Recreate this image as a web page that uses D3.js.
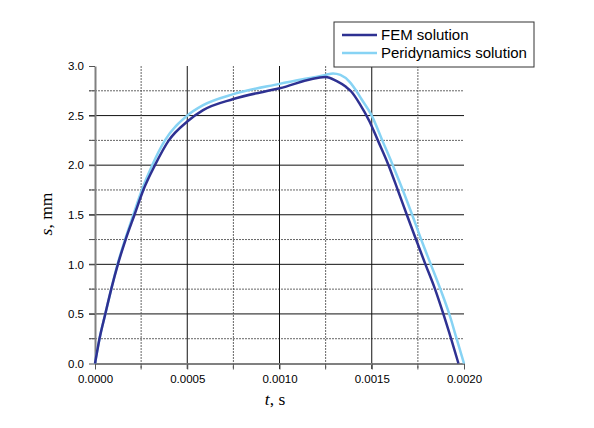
<!DOCTYPE html>
<html>
<head>
<meta charset="utf-8">
<script src="https://cdn.jsdelivr.net/npm/d3@7"></script>
<style>
  body { margin: 0; background: #fff; }
</style>
</head>
<body>
<svg id="chart" width="594" height="428"></svg>
<script>
// data (t in s, s in mm)
var femT = [0, 0.0000244, 0.0000558, 0.000088, 0.000124, 0.000166, 0.000214, 0.000262, 0.000325, 0.0004, 0.0005, 0.000586, 0.00075, 0.001, 0.00125, 0.001308, 0.00136, 0.00139, 0.001434, 0.001488, 0.001533, 0.001591, 0.001641, 0.00169, 0.00174, 0.001791, 0.001843, 0.001888, 0.00193, 0.00197];
var femS = [0, 0.25, 0.5, 0.75, 1.0, 1.25, 1.5, 1.75, 2.0, 2.25, 2.44, 2.555, 2.667, 2.775, 2.89, 2.85, 2.79, 2.74, 2.62, 2.44, 2.25, 2.0, 1.75, 1.5, 1.25, 1.0, 0.75, 0.5, 0.25, 0];
var periT = [0, 0.0000244, 0.0000558, 0.000088, 0.000122, 0.000163, 0.000208, 0.000254, 0.00031, 0.000379, 0.0005, 0.000586, 0.00075, 0.001, 0.00125, 0.00129, 0.00133, 0.00138, 0.001416, 0.001443, 0.0015, 0.001557, 0.001614, 0.001668, 0.001719, 0.001768, 0.00182, 0.001872, 0.00192, 0.00196, 0.002];
var periS = [0, 0.25, 0.5, 0.75, 1.0, 1.25, 1.5, 1.75, 2.0, 2.25, 2.5, 2.605, 2.716, 2.82, 2.91, 2.925, 2.91, 2.84, 2.75, 2.67, 2.5, 2.25, 2.0, 1.75, 1.5, 1.25, 1.0, 0.75, 0.5, 0.25, 0];
var xTicks = [0, 0.0005, 0.001, 0.0015, 0.002];
var xMinor = [0.00025, 0.00075, 0.00125, 0.00175];
var yTicks = [0, 0.5, 1.0, 1.5, 2.0, 2.5, 3.0];
var yMinor = [0.25, 0.75, 1.25, 1.75, 2.25, 2.75];
var seriesNames = ["FEM solution", "Peridynamics solution"];
var seriesColors = ["#2e3192", "#87d3f4"];

var sans = "'Liberation Sans', Arial, sans-serif";
var serif = "'Liberation Serif', 'Times New Roman', serif";

var svg = d3.select("#chart");
var x = d3.scaleLinear().domain([0, 0.002]).range([95, 464]);
var y = d3.scaleLinear().domain([0, 3]).range([363.5, 66]);

// grid
var grid = svg.append("g");
grid.selectAll(".hmin").data(yMinor).enter().append("line")
  .attr("x1", 89).attr("x2", 464)
  .attr("y1", function(d) { return y(d); }).attr("y2", function(d) { return y(d); })
  .attr("stroke", "#555").attr("stroke-width", 0.9).attr("stroke-dasharray", "2,1");
grid.selectAll(".hmaj").data(yTicks.slice(1, 6)).enter().append("line")
  .attr("x1", 89).attr("x2", 464)
  .attr("y1", function(d) { return y(d); }).attr("y2", function(d) { return y(d); })
  .attr("stroke", "#111").attr("stroke-width", 1);
grid.selectAll(".vmin").data(xMinor).enter().append("line")
  .attr("y1", 66).attr("y2", 369)
  .attr("x1", function(d) { return x(d); }).attr("x2", function(d) { return x(d); })
  .attr("stroke", "#555").attr("stroke-width", 0.9).attr("stroke-dasharray", "2,1");
grid.selectAll(".vmaj").data(xTicks.slice(1, 4)).enter().append("line")
  .attr("y1", 66).attr("y2", 369)
  .attr("x1", function(d) { return x(d); }).attr("x2", function(d) { return x(d); })
  .attr("stroke", "#111").attr("stroke-width", 1);

// axes
var xAxis = d3.axisBottom(x).tickValues(xTicks).tickSizeInner(6).tickSizeOuter(0)
  .tickFormat(d3.format(".4f"));
var yAxis = d3.axisLeft(y).tickValues(yTicks).tickSizeInner(6).tickSizeOuter(0)
  .tickFormat(d3.format(".1f"));
var gx = svg.append("g").attr("transform", "translate(0," + y(0) + ")").call(xAxis);
var gy = svg.append("g").attr("transform", "translate(" + x(0) + ",0)").call(yAxis);
[gx, gy].forEach(function(g) {
  g.attr("font-family", null).attr("font-size", null);
  g.select(".domain").attr("stroke", "#808080").attr("stroke-width", 2);
  g.selectAll(".tick line").attr("stroke", "#555");
  g.selectAll("text").style("font-family", sans).style("font-size", "11.5px").attr("fill", "#000");
});
gx.selectAll("text").attr("dy", "0.9em");
gy.selectAll("text").attr("x", -11);
gy.selectAll(".minor").data(yMinor).enter().append("line")
  .attr("x1", -6).attr("x2", 0)
  .attr("y1", function(d) { return y(d); }).attr("y2", function(d) { return y(d); })
  .attr("stroke", "#555");
gx.selectAll(".minor").data(xMinor).enter().append("line")
  .attr("y1", 0).attr("y2", 6)
  .attr("x1", function(d) { return x(d); }).attr("x2", function(d) { return x(d); })
  .attr("stroke", "#555");

// lines
var line = d3.line()
  .x(function(d) { return x(d[0]); })
  .y(function(d) { return y(d[1]); })
  .curve(d3.curveMonotoneX);
svg.append("path").datum(d3.zip(periT, periS))
  .attr("d", line).attr("fill", "none")
  .attr("stroke", seriesColors[1]).attr("stroke-width", 2.5);
svg.append("path").datum(d3.zip(femT, femS))
  .attr("d", line).attr("fill", "none")
  .attr("stroke", seriesColors[0]).attr("stroke-width", 2.5);

// axis titles
svg.append("text").attr("x", 275).attr("y", 405).attr("text-anchor", "middle")
  .style("font-family", serif).style("font-size", "17.5px")
  .html('<tspan font-style="italic">t</tspan>, s');
svg.append("text").attr("transform", "translate(52,214) rotate(-90)").attr("text-anchor", "middle")
  .style("font-family", serif).style("font-size", "17.5px")
  .html('<tspan font-style="italic">s</tspan>, mm');

// legend
var lg = svg.append("g");
lg.append("rect").attr("x", 334).attr("y", 22).attr("width", 200).attr("height", 45)
  .attr("fill", "#fff").attr("stroke", "#333").attr("stroke-width", 1);
seriesNames.forEach(function(n, i) {
  var yy = 35 + i * 18;
  lg.append("line").attr("x1", 342).attr("x2", 377).attr("y1", yy).attr("y2", yy)
    .attr("stroke", seriesColors[i]).attr("stroke-width", 2.5);
  lg.append("text").attr("x", 381).attr("y", yy + 5)
    .style("font-family", sans).style("font-size", "15px")
    .attr("fill", "#000").text(n);
});
</script>
</body>
</html>
